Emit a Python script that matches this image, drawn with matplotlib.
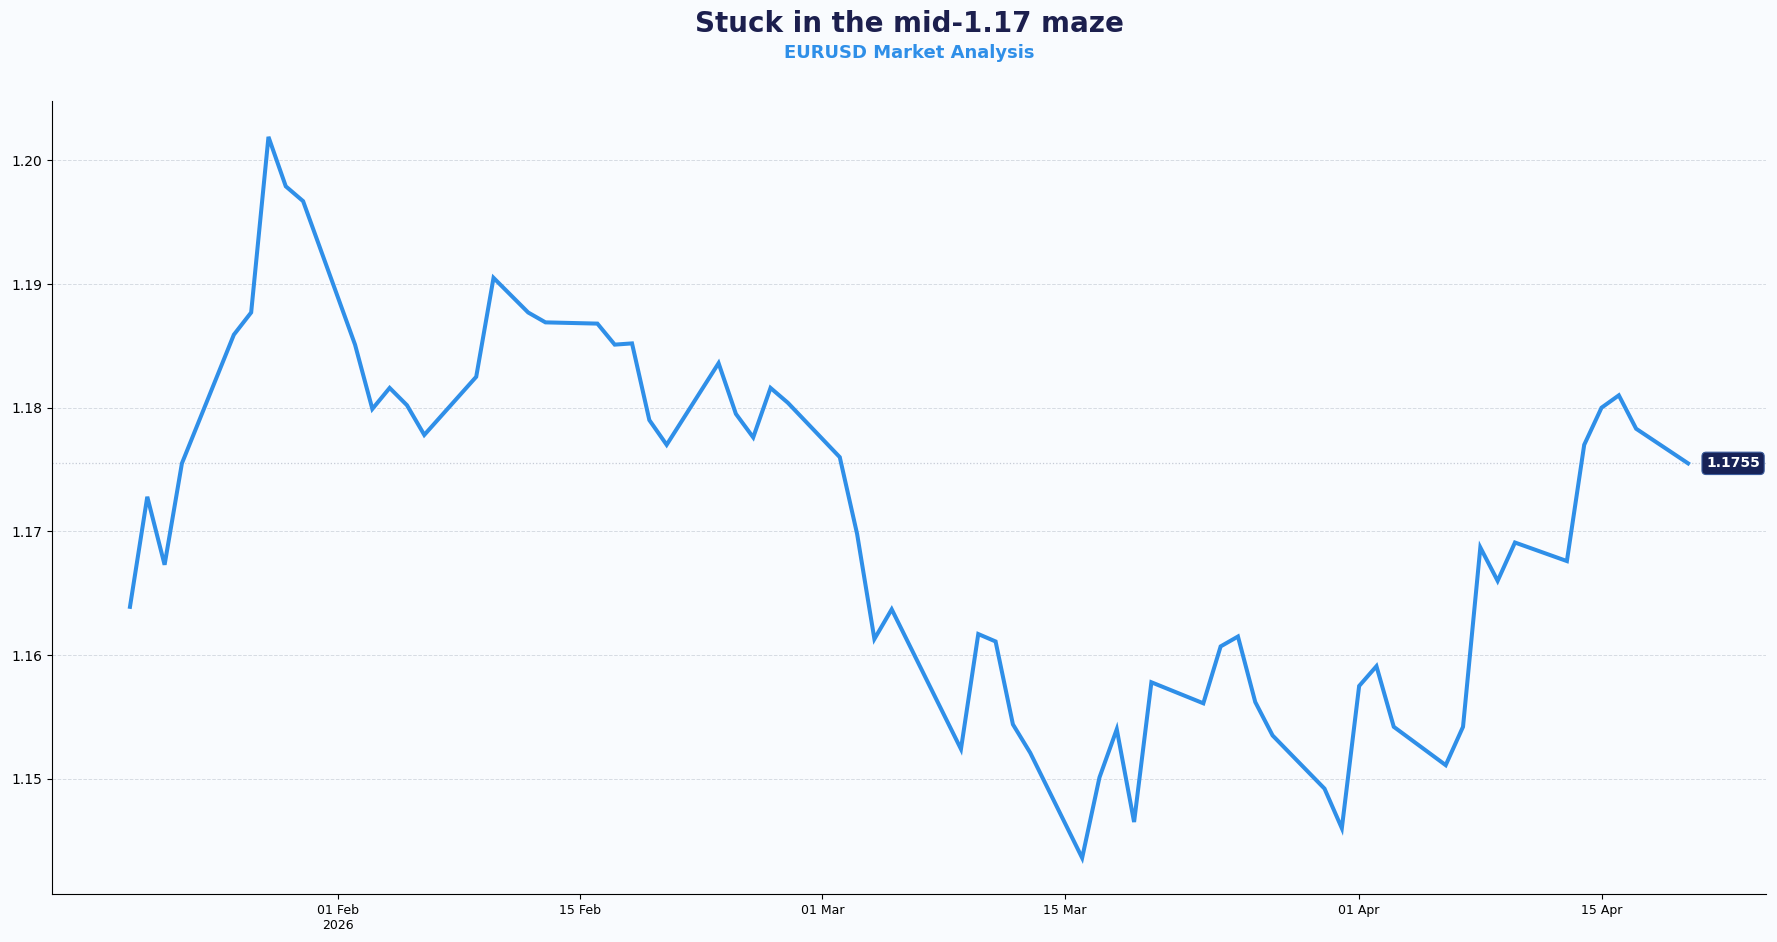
import numpy as np
import pandas as pd
import matplotlib
matplotlib.use("Agg")
import matplotlib.pyplot as plt
import matplotlib.dates as mdates

# daily closes (a couple of days have no print)
dates = pd.to_datetime([
    "2026-01-20", "2026-01-21", "2026-01-22", "2026-01-23",
    "2026-01-26", "2026-01-27", "2026-01-28", "2026-01-29", "2026-01-30",
    "2026-02-02", "2026-02-03", "2026-02-04", "2026-02-05", "2026-02-06",
    "2026-02-09", "2026-02-10", "2026-02-12", "2026-02-13",
    "2026-02-16", "2026-02-17", "2026-02-18", "2026-02-19", "2026-02-20",
    "2026-02-23", "2026-02-24", "2026-02-25", "2026-02-26", "2026-02-27",
    "2026-03-02", "2026-03-03", "2026-03-04", "2026-03-05",
    "2026-03-09", "2026-03-10", "2026-03-11", "2026-03-12", "2026-03-13",
    "2026-03-16", "2026-03-17", "2026-03-18", "2026-03-19", "2026-03-20",
    "2026-03-23", "2026-03-24", "2026-03-25", "2026-03-26", "2026-03-27",
    "2026-03-30", "2026-03-31", "2026-04-01", "2026-04-02", "2026-04-03",
    "2026-04-06", "2026-04-07", "2026-04-08", "2026-04-09", "2026-04-10",
    "2026-04-13", "2026-04-14", "2026-04-15", "2026-04-16", "2026-04-17",
    "2026-04-20",
])
closes = [
    1.1639, 1.1728, 1.1673, 1.1755,
    1.1859, 1.1877, 1.2019, 1.1979, 1.1967,
    1.1851, 1.1799, 1.1816, 1.1802, 1.1778,
    1.1825, 1.1905, 1.1877, 1.1869,
    1.1868, 1.1851, 1.1852, 1.1790, 1.1770,
    1.1836, 1.1795, 1.1776, 1.1816, 1.1804,
    1.1760, 1.1698, 1.1613, 1.1637,
    1.1524, 1.1617, 1.1611, 1.1544, 1.1521,
    1.1436, 1.1501, 1.1540, 1.1465, 1.1578,
    1.1561, 1.1607, 1.1615, 1.1562, 1.1535,
    1.1492, 1.1460, 1.1575, 1.1591, 1.1542,
    1.1511, 1.1542, 1.1687, 1.1660, 1.1691,
    1.1676, 1.1770, 1.1800, 1.1810, 1.1783,
    1.1755,
]
tick_dates = pd.to_datetime(["2026-02-01", "2026-02-15", "2026-03-01",
                             "2026-03-15", "2026-04-01", "2026-04-15"])
tick_labels = ["01 Feb\n2026", "15 Feb", "01 Mar", "15 Mar", "01 Apr", "15 Apr"]

title = "Stuck in the mid-1.17 maze"
subtitle = "EURUSD Market Analysis"

BG = "#f9fbfe"
BLUE = "#2f8fe8"
NAVY = "#1c1f4e"

fig = plt.figure(figsize=(17.77, 9.42), dpi=100, facecolor=BG)
ax = fig.add_axes([0.0293, 0.051, 0.9645, 0.842])
ax.set_facecolor(BG)

ax.plot(dates, closes, color=BLUE, lw=2.9, solid_joinstyle="miter", zorder=3)

last = closes[-1]
ax.axhline(last, color="#c5cbd6", lw=0.9, ls=":", zorder=1)
ax.annotate(f"{last:.4f}", xy=(dates[-1], last), xytext=(13, 0),
            textcoords="offset points", ha="left", va="center",
            color="white", fontsize=10, fontweight="bold",
            bbox=dict(boxstyle="round,pad=0.3", fc="#172257", ec="#3a5a9a", lw=0.8),
            zorder=4)

ax.set_yticks(np.arange(1.15, 1.2001, 0.01))
ax.yaxis.set_major_formatter(plt.FormatStrFormatter("%.2f"))
ax.set_xticks(tick_dates)
ax.set_xticklabels(tick_labels)
ax.tick_params(axis="y", labelsize=10)
ax.tick_params(axis="x", labelsize=9)

ax.grid(axis="y", color="#d3d8e0", ls="--", lw=0.7, alpha=0.9)
ax.grid(axis="x", visible=False)
ax.set_axisbelow(True)
for side in ["top", "right"]:
    ax.spines[side].set_visible(False)

# titles centred over the axes, not the figure
xc = 0.0293 + 0.9645 / 2
fig.text(xc, 0.975, title, ha="center", va="center",
         fontsize=20, fontweight="bold", color=NAVY)
fig.text(xc, 0.944, subtitle, ha="center", va="center",
         fontsize=13, fontweight="bold", color=BLUE)

fig.savefig("out.png", dpi=100, facecolor=BG)
